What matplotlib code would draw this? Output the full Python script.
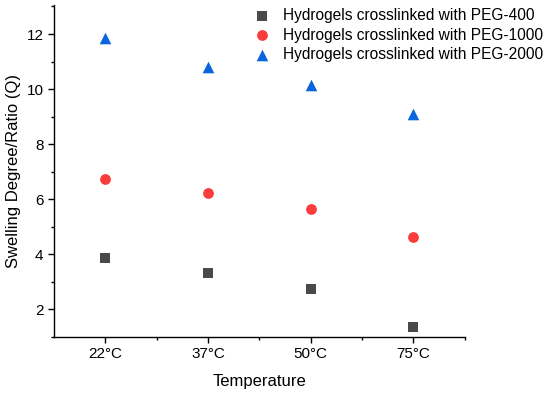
import matplotlib
matplotlib.use("Agg")
import matplotlib.pyplot as plt
from matplotlib.ticker import FixedLocator

plt.rcParams['font.family'] = ['Liberation Sans', 'DejaVu Sans']

temps = ["22°C", "37°C", "50°C", "75°C"]
peg400 = [3.87, 3.33, 2.73, 1.36]
peg1000 = [6.74, 6.24, 5.64, 4.62]
peg2000 = [11.85, 10.8, 10.15, 9.1]

labels = ["Hydrogels crosslinked with PEG-400",
          "Hydrogels crosslinked with PEG-1000",
          "Hydrogels crosslinked with PEG-2000"]

fig = plt.figure(figsize=(5.5, 3.94), dpi=100)
ax = fig.add_axes([0.098, 0.145, 0.747, 0.842])

x = list(range(len(temps)))
ax.scatter(x, peg400, marker='s', s=50, color='#4a4a4a', label=labels[0], linewidths=0)
ax.scatter(x, peg1000, marker='o', s=60, color='#fa3c3c', label=labels[1], linewidths=0)
ax.scatter(x, peg2000, marker='^', s=70, color='#0a64dc', label=labels[2], linewidths=0)

ax.set_xlim(-0.5, 3.5)
ax.set_ylim(1, 13.05)
ax.set_xticks(x)
ax.set_xticklabels(temps)
ax.xaxis.set_minor_locator(FixedLocator([0.5, 1.5, 2.5, 3.5]))
ax.set_yticks([2, 4, 6, 8, 10, 12])
ax.yaxis.set_minor_locator(FixedLocator([1, 3, 5, 7, 9, 11, 13]))

for s in ['top', 'right']:
    ax.spines[s].set_visible(False)
for s in ['left', 'bottom']:
    ax.spines[s].set_linewidth(1.0)

ax.tick_params(which='major', direction='out', length=4, width=1, labelsize=11)
ax.tick_params(which='minor', direction='out', length=2.5, width=1)

ax.set_xlabel("Temperature", fontsize=12, labelpad=9)
ax.set_ylabel("Swelling Degree/Ratio (Q)", fontsize=12, labelpad=4)

fig.legend(loc='upper left', bbox_to_anchor=(0.448, 0.995), frameon=False,
           fontsize=11.2, handletextpad=0.75, labelspacing=0.28,
           handlelength=1.2, borderaxespad=0)

fig.savefig("out.png", dpi=100)
